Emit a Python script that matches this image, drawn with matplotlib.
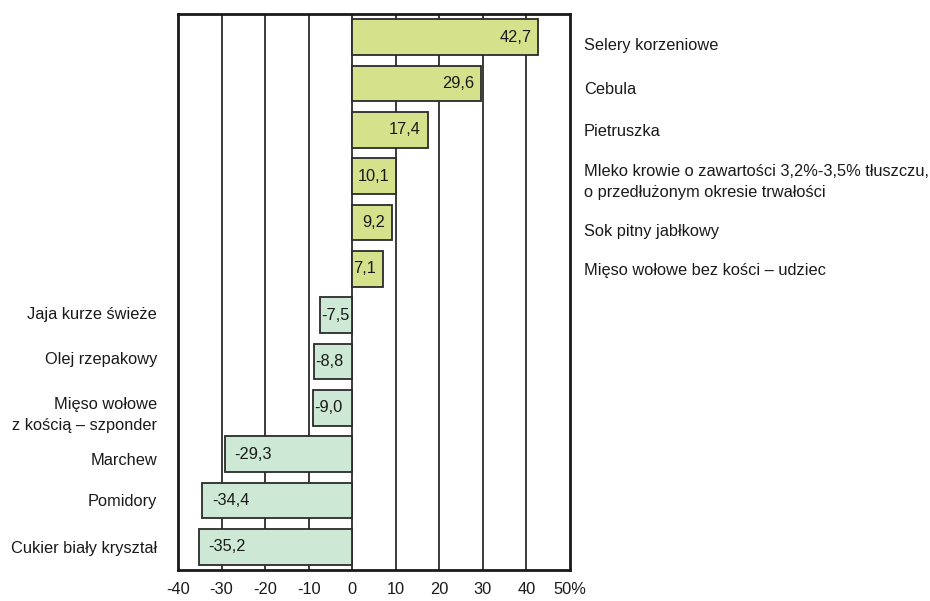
import matplotlib
matplotlib.use("Agg")
import matplotlib.pyplot as plt
import numpy as np

plt.rcParams["font.family"] = ["Liberation Sans", "DejaVu Sans"]

# top to bottom
labels = [
    "Selery korzeniowe",
    "Cebula",
    "Pietruszka",
    "Mleko krowie o zawartości 3,2%-3,5% tłuszczu,\no przedłużonym okresie trwałości",
    "Sok pitny jabłkowy",
    "Mięso wołowe bez kości – udziec",
    "Jaja kurze świeże",
    "Olej rzepakowy",
    "Mięso wołowe\nz kością – szponder",
    "Marchew",
    "Pomidory",
    "Cukier biały kryształ",
]
values = [42.7, 29.6, 17.4, 10.1, 9.2, 7.1, -7.5, -8.8, -9.0, -29.3, -34.4, -35.2]
xticks = [-40, -30, -20, -10, 0, 10, 20, 30, 40, 50]
xticklabels = ["-40", "-30", "-20", "-10", "0", "10", "20", "30", "40", "50%"]

# small vertical nudges of the category labels (points, downwards)
label_dy = [6, 4.5, 1, 4.5, 6.5, 1, -0.5, -1.5, 5, 4.5, 0.5, 1.5]

POS_COLOR = "#d5e18b"
NEG_COLOR = "#cde8d5"
TEXT = "#1a1a1a"
FS = 11.8

fig = plt.figure(figsize=(9.30, 6.01), dpi=100)
ax = fig.add_axes([178 / 930, 1 - 570 / 601, 392 / 930, 556 / 601])

y = np.arange(len(values))
colors = [POS_COLOR if v > 0 else NEG_COLOR for v in values]
ax.barh(y, values, height=0.77, color=colors, edgecolor="#2b2b2b",
        linewidth=1.3, zorder=3)

ax.set_xlim(-40, 50)
ax.set_ylim(len(values) - 0.5, -0.5)
ax.set_xticks(xticks)
ax.set_xticklabels(xticklabels, fontsize=FS, color=TEXT)
ax.tick_params(axis="x", length=0, pad=9)
ax.set_yticks([])
for x in xticks[1:-1]:
    ax.axvline(x, color="#1a1a1a", linewidth=1.2, zorder=1)
for s in ax.spines.values():
    s.set_linewidth(2)
    s.set_color("#1a1a1a")

for yi, v, lab, dy in zip(y, values, labels, label_dy):
    txt = f"{v:.1f}".replace(".", ",")
    if v > 0:
        ax.annotate(txt, (v, yi), xytext=(-5, 0), textcoords="offset points",
                    ha="right", va="center", fontsize=FS, color=TEXT, zorder=4)
        ax.annotate(lab, (1, yi), xycoords=("axes fraction", "data"),
                    xytext=(10, -dy), textcoords="offset points",
                    ha="left", va="center", fontsize=FS, color=TEXT,
                    linespacing=1.5)
    else:
        off = 7 if abs(v) > 20 else 1
        ax.annotate(txt, (v, yi), xytext=(off, 0), textcoords="offset points",
                    ha="left", va="center", fontsize=FS, color=TEXT, zorder=4)
        ax.annotate(lab, (0, yi), xycoords=("axes fraction", "data"),
                    xytext=(-15, -dy), textcoords="offset points",
                    ha="right", va="center", fontsize=FS, color=TEXT,
                    linespacing=1.5)

fig.savefig("out.png", dpi=100)
